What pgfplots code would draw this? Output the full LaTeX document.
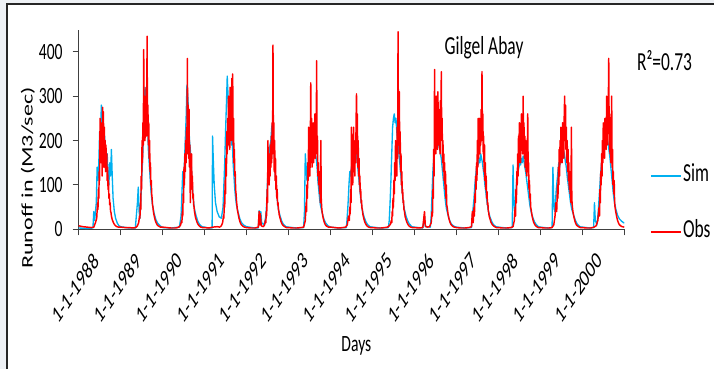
\documentclass[border=0pt]{standalone}
\usepackage{fontspec}
\setmainfont{Carlito}[FakeStretch=0.67]
\newfontfamily\plainfont{Carlito}
\usepackage{graphicx}
\usepackage{pgfplots}
\pgfplotsset{compat=1.18}
\definecolor{simblue}{HTML}{00B0F0}
\definecolor{obsred}{HTML}{FF0000}
\definecolor{axgray}{HTML}{404040}
\definecolor{bggray}{HTML}{EEF1F5}
\begin{document}
\begin{tikzpicture}
\useasboundingbox (-59.0pt,-104.8pt) rectangle (476.5pt,172.0pt);
\fill[bggray] (-59.0pt,-104.8pt) rectangle (476.5pt,172.0pt);
\fill[white] (-53.8pt,-104.8pt) rectangle (476.5pt,169.0pt);
\draw[line width=1.2pt, color=black!85] (-53.8pt,-104.8pt) -- (-53.8pt,169.0pt) -- (476.5pt,169.0pt);
\begin{axis}[
  at={(0pt,0pt)}, anchor=south west,
  scale only axis, width=409.2pt, height=149.85pt,
  xmin=0, xmax=13, ymin=0, ymax=450,
  axis x line*=bottom, axis y line*=left,
  axis line style={color=axgray, line width=0.9pt},
  xtick={0,1,2,3,4,5,6,7,8,9,10,11,12,13},
  xticklabels={1-1-1988,1-1-1989,1-1-1990,1-1-1991,1-1-1992,1-1-1993,1-1-1994,1-1-1995,1-1-1996,1-1-1997,1-1-1998,1-1-1999,1-1-2000,{}},
  ytick={0,100,200,300,400},
  tick align=outside,
  major tick length=4.5pt,
  tick style={color=axgray, line width=0.8pt},
  xticklabel style={font=\plainfont\fontsize{18}{20}\selectfont, xscale=0.67, rotate=45, anchor=north east, inner sep=0pt, xshift=2.5pt, yshift=-19pt},
  yticklabel style={font=\fontsize{17.5}{20}\selectfont, xshift=-4pt},
  /pgf/number format/assume math mode=true,
  xlabel={Days},
  xlabel style={font=\fontsize{17.5}{20}\selectfont, at={(axis description cs:0.509,-0.584)}, anchor=center},
  ylabel={\scalebox{1}[0.67]{Runoff in (M3/sec)}},
  ylabel style={font=\plainfont\fontsize{18}{20}\selectfont, at={(axis description cs:-0.093,0.257)}, anchor=center},
  every axis title shift=0pt,
  title={Gilgel Abay},
  title style={font=\fontsize{19.5}{22}\selectfont, at={(axis description cs:0.7429,0.9075)}, anchor=center},
  legend style={draw=none, fill=none, at={(axis description cs:1.047,0.128)}, anchor=west,
    font=\fontsize{19.5}{22}\selectfont, row sep=25pt, inner sep=0pt,
    nodes={inner sep=1pt, text height=12pt, text depth=3pt}},
  legend cell align=left,
  legend image code/.code={\draw[#1, line width=1.2pt] (0pt,0pt) -- (22.5pt,0pt);},
]
\addplot[simblue, line width=1pt, line join=round] coordinates {
(0,3) (0.2,2) (0.34,3) (0.36,40) (0.38,20) (0.42,60) (0.44,140) (0.46,110) (0.48,150) (0.50,220) (0.52,200) (0.54,280) (0.56,250) (0.58,200) (0.60,170) (0.62,210) (0.64,160) (0.66,140) (0.68,170) (0.70,120) (0.72,100) (0.74,150) (0.76,120) (0.78,180) (0.80,120) (0.82,70) (0.85,40) (0.88,25) (0.92,14) (0.96,8)
(1.00,6) (1.20,3) (1.35,3) (1.40,60) (1.42,95) (1.44,40) (1.46,25) (1.48,60) (1.50,110) (1.52,150) (1.54,200) (1.56,250) (1.58,320) (1.60,280) (1.62,240) (1.64,260) (1.66,180) (1.68,150) (1.70,120) (1.72,90) (1.74,70) (1.76,55) (1.80,35) (1.84,22) (1.88,14) (1.94,8)
(2.00,4) (2.20,3) (2.40,5) (2.44,30) (2.46,80) (2.48,130) (2.50,110) (2.52,150) (2.54,200) (2.56,250) (2.58,325) (2.60,300) (2.62,260) (2.64,200) (2.66,180) (2.68,150) (2.70,110) (2.72,80) (2.74,60) (2.76,45) (2.80,30) (2.84,18) (2.88,11) (2.94,6)
(3.00,5) (3.10,3) (3.18,3) (3.19,210) (3.21,150) (3.23,100) (3.26,60) (3.30,40) (3.35,28) (3.40,25) (3.44,50) (3.46,100) (3.48,150) (3.50,220) (3.52,280) (3.54,345) (3.56,300) (3.58,260) (3.60,280) (3.62,230) (3.64,190) (3.66,200) (3.68,150) (3.70,120) (3.72,90) (3.74,70) (3.76,55) (3.80,38) (3.84,24) (3.88,15) (3.94,9)
(4.00,6) (4.20,3) (4.28,3) (4.30,42) (4.32,20) (4.34,40) (4.36,15) (4.42,10) (4.46,30) (4.48,60) (4.50,110) (4.52,140) (4.54,170) (4.56,190) (4.58,200) (4.60,230) (4.62,240) (4.64,200) (4.66,170) (4.68,130) (4.70,100) (4.72,80) (4.74,60) (4.76,45) (4.80,30) (4.84,18) (4.88,11) (4.94,6)
(5.00,5) (5.20,3) (5.36,4) (5.38,40) (5.40,170) (5.42,140) (5.44,110) (5.46,150) (5.48,140) (5.50,160) (5.52,150) (5.54,170) (5.56,160) (5.58,180) (5.60,170) (5.62,190) (5.64,170) (5.66,160) (5.68,140) (5.70,110) (5.72,90) (5.74,70) (5.76,55) (5.80,38) (5.84,24) (5.88,15) (5.94,8)
(6.00,5) (6.20,3) (6.38,4) (6.40,30) (6.42,60) (6.44,100) (6.46,130) (6.48,120) (6.50,140) (6.52,150) (6.54,160) (6.56,150) (6.58,170) (6.60,180) (6.62,165) (6.64,150) (6.66,130) (6.68,110) (6.70,90) (6.72,70) (6.74,55) (6.76,42) (6.80,28) (6.84,18) (6.88,11) (6.94,6)
(7.00,5) (7.20,3) (7.38,4) (7.40,20) (7.42,60) (7.44,110) (7.46,170) (7.48,230) (7.50,250) (7.52,260) (7.54,240) (7.56,250) (7.58,220) (7.60,200) (7.62,180) (7.64,160) (7.66,140) (7.68,120) (7.70,95) (7.72,75) (7.74,58) (7.76,45) (7.80,30) (7.84,19) (7.88,12) (7.94,6)
(8.00,5) (8.20,3) (8.24,30) (8.26,6) (8.38,5) (8.40,30) (8.42,80) (8.44,130) (8.46,160) (8.48,180) (8.50,200) (8.52,190) (8.54,210) (8.56,200) (8.58,190) (8.60,180) (8.62,170) (8.64,160) (8.66,140) (8.68,120) (8.70,100) (8.72,80) (8.74,62) (8.76,48) (8.80,32) (8.84,20) (8.88,12) (8.94,7)
(9.00,5) (9.20,3) (9.36,4) (9.38,30) (9.40,50) (9.42,70) (9.44,100) (9.46,120) (9.48,140) (9.50,150) (9.52,145) (9.54,160) (9.56,150) (9.58,170) (9.60,160) (9.62,150) (9.64,135) (9.66,120) (9.68,100) (9.70,85) (9.72,68) (9.74,55) (9.76,42) (9.80,28) (9.84,18) (9.88,11) (9.94,6)
(10.00,5) (10.20,3) (10.33,4) (10.35,145) (10.37,60) (10.39,40) (10.41,70) (10.43,100) (10.45,120) (10.47,130) (10.49,140) (10.51,150) (10.53,145) (10.55,160) (10.57,150) (10.59,165) (10.61,155) (10.63,140) (10.65,130) (10.67,115) (10.69,100) (10.71,85) (10.73,70) (10.75,55) (10.78,40) (10.82,27) (10.86,17) (10.90,11) (10.95,6)
(11.00,5) (11.20,3) (11.28,4) (11.30,140) (11.32,60) (11.34,40) (11.36,60) (11.38,90) (11.40,110) (11.42,130) (11.44,150) (11.46,140) (11.48,160) (11.50,150) (11.52,170) (11.54,160) (11.56,175) (11.58,165) (11.60,150) (11.62,140) (11.64,120) (11.66,105) (11.68,90) (11.70,75) (11.72,60) (11.75,45) (11.80,30) (11.84,19) (11.88,12) (11.94,6)
(12.00,5) (12.20,3) (12.27,4) (12.29,60) (12.31,20) (12.35,10) (12.38,40) (12.40,70) (12.42,100) (12.44,130) (12.46,150) (12.48,170) (12.50,190) (12.52,180) (12.54,200) (12.56,190) (12.58,210) (12.60,200) (12.62,190) (12.64,175) (12.66,160) (12.68,140) (12.70,120) (12.72,100) (12.74,80) (12.76,65) (12.80,45) (12.84,32) (12.88,24) (12.94,18) (13.00,14)
};
\addplot[obsred, line width=1.1pt, line join=round] coordinates {
(0.00,8) (0.10,6) (0.20,5) (0.30,4) (0.36,5) (0.40,15) (0.43,25) (0.45,60) (0.46,45) (0.47,90) (0.48,70) (0.49,130) (0.50,110) (0.51,250) (0.52,160) (0.53,240) (0.54,150) (0.55,210) (0.56,120) (0.57,275) (0.58,170) (0.59,265) (0.60,140) (0.61,230) (0.62,180) (0.63,200) (0.64,130) (0.65,190) (0.66,150) (0.67,170) (0.68,110) (0.69,140) (0.70,90) (0.71,110) (0.72,70) (0.73,80) (0.74,55) (0.75,60) (0.76,40) (0.77,38) (0.78,30) (0.80,22) (0.82,17) (0.84,13) (0.86,10) (0.88,8) (0.91,6) (0.95,5)
(1.00,5) (1.10,4) (1.20,4) (1.30,3) (1.36,4) (1.40,8) (1.43,15) (1.45,30) (1.46,25) (1.47,60) (1.48,45) (1.49,120) (1.50,90) (1.51,200) (1.52,150) (1.53,240) (1.54,190) (1.55,405) (1.56,220) (1.57,300) (1.58,200) (1.59,260) (1.60,230) (1.61,320) (1.62,210) (1.63,435) (1.64,230) (1.65,280) (1.66,190) (1.67,240) (1.68,160) (1.69,200) (1.70,130) (1.71,150) (1.72,100) (1.73,110) (1.74,80) (1.75,70) (1.76,55) (1.77,50) (1.78,40) (1.80,30) (1.82,22) (1.84,16) (1.86,12) (1.88,9) (1.91,7) (1.95,5)
(2.00,5) (2.10,4) (2.20,3) (2.30,3) (2.36,4) (2.40,6) (2.43,10) (2.45,20) (2.46,15) (2.47,40) (2.48,30) (2.49,80) (2.50,60) (2.51,140) (2.52,100) (2.53,170) (2.54,130) (2.55,200) (2.56,150) (2.57,230) (2.58,170) (2.59,385) (2.60,200) (2.61,280) (2.62,160) (2.63,270) (2.64,140) (2.65,190) (2.66,60) (2.67,150) (2.68,110) (2.69,170) (2.70,90) (2.71,120) (2.72,70) (2.73,80) (2.74,55) (2.75,50) (2.76,40) (2.77,35) (2.78,28) (2.80,22) (2.82,16) (2.84,12) (2.86,9) (2.88,7) (2.91,5) (2.95,4)
(3.00,4) (3.10,3) (3.20,5) (3.30,6) (3.36,5) (3.40,8) (3.43,15) (3.45,30) (3.46,25) (3.47,60) (3.48,50) (3.49,110) (3.50,80) (3.51,160) (3.52,120) (3.53,220) (3.54,170) (3.55,250) (3.56,190) (3.57,300) (3.58,210) (3.59,270) (3.60,180) (3.61,320) (3.62,230) (3.63,290) (3.64,200) (3.65,340) (3.66,220) (3.67,350) (3.68,190) (3.69,250) (3.70,150) (3.71,180) (3.72,120) (3.73,130) (3.74,90) (3.75,80) (3.76,65) (3.77,55) (3.78,45) (3.80,35) (3.82,25) (3.84,18) (3.86,13) (3.88,10) (3.91,7) (3.95,5)
(4.00,4) (4.10,3) (4.20,3) (4.28,5) (4.30,40) (4.31,10) (4.33,35) (4.35,8) (4.40,6) (4.43,10) (4.45,20) (4.46,15) (4.47,40) (4.48,30) (4.49,90) (4.50,60) (4.51,200) (4.52,110) (4.53,150) (4.54,100) (4.55,170) (4.56,120) (4.57,190) (4.58,140) (4.59,210) (4.60,150) (4.61,240) (4.62,170) (4.63,415) (4.64,180) (4.65,240) (4.66,130) (4.67,200) (4.68,110) (4.69,160) (4.70,90) (4.71,120) (4.72,70) (4.73,90) (4.74,55) (4.75,60) (4.76,45) (4.77,40) (4.78,32) (4.80,25) (4.82,18) (4.84,13) (4.86,10) (4.88,8) (4.91,6) (4.95,4)
(5.00,4) (5.10,3) (5.20,3) (5.30,4) (5.36,5) (5.38,12) (5.40,20) (5.42,60) (5.43,40) (5.44,100) (5.45,70) (5.46,150) (5.47,110) (5.48,230) (5.49,140) (5.50,180) (5.51,120) (5.52,200) (5.53,330) (5.54,160) (5.55,250) (5.56,140) (5.57,220) (5.58,180) (5.59,240) (5.60,150) (5.61,200) (5.62,170) (5.63,260) (5.64,160) (5.65,230) (5.66,180) (5.67,380) (5.68,170) (5.69,210) (5.70,120) (5.71,150) (5.72,100) (5.73,130) (5.74,80) (5.75,110) (5.76,60) (5.77,200) (5.78,70) (5.79,50) (5.80,40) (5.82,28) (5.84,20) (5.86,14) (5.88,10) (5.91,7) (5.95,5)
(6.00,5) (6.10,4) (6.20,3) (6.30,4) (6.36,5) (6.40,10) (6.43,30) (6.45,20) (6.46,50) (6.47,35) (6.48,90) (6.49,60) (6.50,230) (6.51,110) (6.52,160) (6.53,100) (6.54,150) (6.55,230) (6.56,130) (6.57,180) (6.58,120) (6.59,200) (6.60,150) (6.61,240) (6.62,305) (6.63,170) (6.64,260) (6.65,140) (6.66,200) (6.67,120) (6.68,160) (6.69,100) (6.70,120) (6.71,80) (6.72,90) (6.73,60) (6.74,65) (6.75,48) (6.76,45) (6.77,35) (6.78,30) (6.80,22) (6.82,16) (6.84,12) (6.86,9) (6.88,7) (6.91,5) (6.95,4)
(7.00,4) (7.10,3) (7.20,3) (7.30,4) (7.36,5) (7.40,8) (7.43,12) (7.45,20) (7.46,15) (7.47,40) (7.48,30) (7.49,70) (7.50,50) (7.51,110) (7.52,80) (7.53,150) (7.54,110) (7.55,200) (7.56,140) (7.57,180) (7.58,120) (7.59,230) (7.60,160) (7.61,445) (7.62,190) (7.63,250) (7.64,310) (7.65,170) (7.66,220) (7.67,130) (7.68,170) (7.69,100) (7.70,130) (7.71,80) (7.72,90) (7.73,60) (7.74,65) (7.75,45) (7.76,42) (7.77,35) (7.78,28) (7.80,22) (7.82,16) (7.84,12) (7.86,9) (7.88,7) (7.91,5) (7.95,4)
(8.00,4) (8.10,3) (8.20,4) (8.24,40) (8.26,8) (8.30,5) (8.36,6) (8.40,15) (8.42,40) (8.43,30) (8.44,90) (8.45,70) (8.46,180) (8.47,120) (8.48,360) (8.49,200) (8.50,280) (8.51,170) (8.52,300) (8.53,210) (8.54,260) (8.55,180) (8.56,310) (8.57,200) (8.58,270) (8.59,190) (8.60,250) (8.61,170) (8.62,290) (8.63,200) (8.64,355) (8.65,210) (8.66,250) (8.67,150) (8.68,200) (8.69,130) (8.70,170) (8.71,110) (8.72,150) (8.73,90) (8.74,130) (8.75,70) (8.76,100) (8.77,55) (8.78,50) (8.80,35) (8.82,25) (8.84,18) (8.86,13) (8.88,10) (8.91,7) (8.95,5)
(9.00,4) (9.10,3) (9.20,3) (9.30,4) (9.36,6) (9.38,40) (9.40,15) (9.42,50) (9.43,30) (9.44,80) (9.45,60) (9.46,120) (9.47,90) (9.48,150) (9.49,110) (9.50,200) (9.51,140) (9.52,250) (9.53,160) (9.54,210) (9.55,250) (9.56,170) (9.57,230) (9.58,190) (9.59,270) (9.60,200) (9.61,355) (9.62,220) (9.63,260) (9.64,170) (9.65,210) (9.66,130) (9.67,190) (9.68,110) (9.69,150) (9.70,90) (9.71,120) (9.72,70) (9.73,85) (9.74,55) (9.75,60) (9.76,42) (9.77,38) (9.78,30) (9.80,24) (9.82,17) (9.84,13) (9.86,10) (9.88,8) (9.91,6) (9.95,4)
(10.00,4) (10.10,3) (10.20,3) (10.30,4) (10.35,6) (10.38,20) (10.40,50) (10.41,30) (10.42,90) (10.43,60) (10.44,130) (10.45,100) (10.46,170) (10.47,120) (10.48,210) (10.49,150) (10.50,240) (10.51,170) (10.52,200) (10.53,150) (10.54,220) (10.55,260) (10.56,180) (10.57,230) (10.58,170) (10.59,300) (10.60,190) (10.61,240) (10.62,160) (10.63,210) (10.64,140) (10.65,200) (10.66,130) (10.67,180) (10.68,120) (10.69,170) (10.70,260) (10.71,130) (10.72,150) (10.73,90) (10.74,110) (10.75,70) (10.76,80) (10.77,50) (10.78,45) (10.80,32) (10.82,23) (10.84,16) (10.86,12) (10.88,9) (10.91,6) (10.95,4)
(11.00,4) (11.10,3) (11.20,3) (11.28,4) (11.32,10) (11.35,30) (11.37,60) (11.39,40) (11.41,100) (11.42,70) (11.43,140) (11.44,100) (11.45,180) (11.46,120) (11.47,200) (11.48,150) (11.49,230) (11.50,160) (11.51,210) (11.52,150) (11.53,240) (11.54,170) (11.55,220) (11.56,160) (11.57,260) (11.58,300) (11.59,200) (11.60,280) (11.61,180) (11.62,230) (11.63,150) (11.64,200) (11.65,130) (11.66,180) (11.67,110) (11.68,150) (11.69,90) (11.70,130) (11.71,80) (11.72,100) (11.73,60) (11.74,230) (11.75,70) (11.76,55) (11.77,45) (11.78,38) (11.80,28) (11.82,20) (11.84,14) (11.86,10) (11.88,8) (11.91,6) (11.95,4)
(12.00,4) (12.10,3) (12.20,3) (12.28,5) (12.33,8) (12.37,20) (12.40,50) (12.41,30) (12.42,90) (12.43,60) (12.44,130) (12.45,100) (12.46,170) (12.47,120) (12.48,200) (12.49,150) (12.50,240) (12.51,170) (12.52,210) (12.53,160) (12.54,250) (12.55,190) (12.56,230) (12.57,180) (12.58,300) (12.59,210) (12.60,260) (12.61,190) (12.62,280) (12.63,385) (12.64,220) (12.65,260) (12.66,170) (12.67,230) (12.68,150) (12.69,200) (12.70,300) (12.71,140) (12.72,180) (12.73,100) (12.74,130) (12.75,80) (12.76,110) (12.77,60) (12.78,50) (12.80,38) (12.82,28) (12.84,20) (12.86,15) (12.88,11) (12.91,8) (12.95,6) (13.00,5)
};
\legend{Sim, Obs}
\end{axis}
\node[font=\fontsize{19.5}{22}\selectfont] at (439.4pt,126.2pt) {R²=0.73};
\end{tikzpicture}
\end{document}
